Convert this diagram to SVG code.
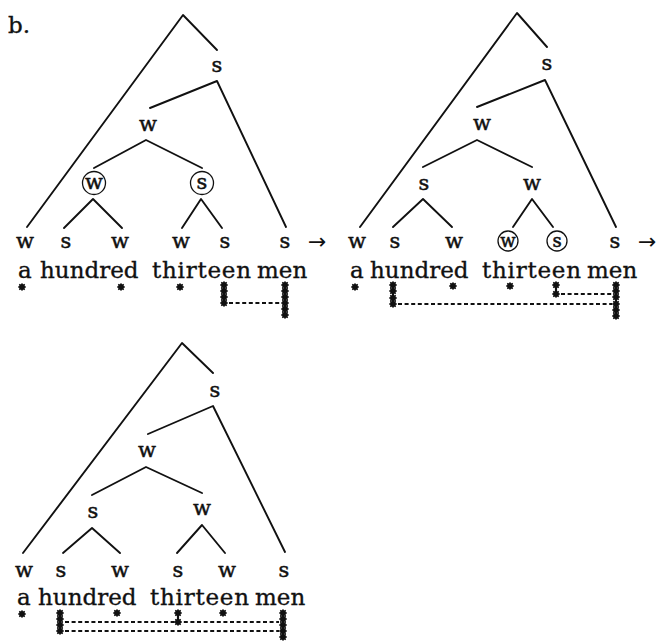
<svg xmlns="http://www.w3.org/2000/svg" xmlns:xlink="http://www.w3.org/1999/xlink" width="660" height="643" viewBox="0 0 660 643">
<style>
.edge{fill:none;stroke:#111;stroke-width:1.9;stroke-linecap:round;stroke-linejoin:round}
.lab{font-family:"DejaVu Serif","Liberation Serif",serif;font-size:21px;fill:#111;stroke:#111;stroke-width:0.5;text-anchor:middle}
.word{font-family:"DejaVu Serif","Liberation Serif",serif;font-size:23px;fill:#111;stroke:#111;stroke-width:0.35}
.ring{fill:none;stroke:#111;stroke-width:1.3}
.dash{fill:none;stroke:#111;stroke-width:1.8;stroke-dasharray:4 2.6}
.col{fill:none;stroke:#111;stroke-width:2.2}
.arrow{font-family:"DejaVu Sans","Liberation Sans",sans-serif;font-size:22px;fill:#111}
</style>
<defs>
<g id="dot">
<circle r="2.9" fill="#111"/>
<path d="M-3.8,0H3.8M0,-3.8V3.8M-2.7,-2.7L2.7,2.7M-2.7,2.7L2.7,-2.7" stroke="#111" stroke-width="1.3"/>
</g>
</defs>
<rect width="660" height="643" fill="#fff"/>
<text x="8" y="33" class="word">b.</text>

<g id="connectors">
<path class="edge" d="M27,227 L183,15 L217,50"/>
<path class="edge" d="M150,108 L217,81 L286,227"/>
<path class="edge" d="M94,168 L146,140 L202,168"/>
<path class="edge" d="M64,228 L93,199 L122,228"/>
<path class="edge" d="M182,228 L201,199 L222,228"/>
<path class="edge" d="M360,227 L517,13 L547,47"/>
<path class="edge" d="M477,107 L545,80 L616,227"/>
<path class="edge" d="M423,167 L477,140 L532,167"/>
<path class="edge" d="M393,227 L423,199 L452,227"/>
<path class="edge" d="M513,227 L532,199 L553,227"/>
<path class="edge" d="M23,553 L182,343 L213,373"/>
<path class="edge" d="M148,434 L213,406 L285,552"/>
<path class="edge" d="M92,495 L146,467 L202,493"/>
<path class="edge" d="M63,553 L92,528 L120,553"/>
<path class="edge" d="M177,553 L202,525 L225,553"/>
</g>

<g id="tree1">
<text class="lab" x="217" y="72">s</text>
<text class="lab" x="148" y="131">w</text>
<g id="t1-ringw"><circle class="ring" cx="94" cy="183" r="11.5"/><text class="lab" x="94" y="189">w</text></g>
<g id="t1-rings"><circle class="ring" cx="202" cy="183" r="11.5"/><text class="lab" x="202" y="189">s</text></g>
<text class="lab" x="25" y="248">w</text>
<text class="lab" x="66" y="248">s</text>
<text class="lab" x="120" y="248">w</text>
<text class="lab" x="181" y="248">w</text>
<text class="lab" x="225" y="248">s</text>
<text class="lab" x="285" y="248">s</text>
<text class="arrow" x="308" y="249">→</text>
<text class="word" x="18" y="278">a</text>
<text class="word" x="40" y="278">hundred</text>
<text class="word" x="152" y="278" textLength="99">thirteen</text>
<text class="word" x="257" y="278">men</text>
<g id="t1-grid">
<path class="dash" d="M229,303 H280"/>
<path class="col" d="M224,285 V303 M285,285 V315"/>
<use xlink:href="#dot" x="22" y="287"/>
<use xlink:href="#dot" x="121" y="287"/>
<use xlink:href="#dot" x="180" y="287"/>
<use xlink:href="#dot" x="224" y="285"/><use xlink:href="#dot" x="224" y="291"/><use xlink:href="#dot" x="224" y="297"/><use xlink:href="#dot" x="224" y="303"/>
<use xlink:href="#dot" x="285" y="285"/><use xlink:href="#dot" x="285" y="291"/><use xlink:href="#dot" x="285" y="297"/><use xlink:href="#dot" x="285" y="303"/><use xlink:href="#dot" x="285" y="309"/><use xlink:href="#dot" x="285" y="315"/>
</g>
</g>

<g id="tree2">
<text class="lab" x="547" y="70">s</text>
<text class="lab" x="482" y="130">w</text>
<text class="lab" x="424" y="190">s</text>
<text class="lab" x="532" y="190">w</text>
<text class="lab" x="357" y="248">w</text>
<text class="lab" x="395" y="248">s</text>
<text class="lab" x="454" y="248">w</text>
<g id="t2-ringw"><circle class="ring" cx="508" cy="241" r="10"/><text class="lab" x="508" y="247" style="font-size:18px">w</text></g>
<g id="t2-rings"><circle class="ring" cx="557" cy="241" r="10"/><text class="lab" x="557" y="247" style="font-size:18px">s</text></g>
<text class="lab" x="615" y="248">s</text>
<text class="arrow" x="638" y="249">→</text>
<text class="word" x="350" y="278">a</text>
<text class="word" x="370" y="278">hundred</text>
<text class="word" x="482" y="278" textLength="99">thirteen</text>
<text class="word" x="587" y="278">men</text>
<g id="t2-grid">
<path class="dash" d="M561,294 H612"/>
<path class="dash" d="M398,304 H612"/>
<path class="col" d="M393,285 V304 M556,285 V294 M616,285 V316"/>
<use xlink:href="#dot" x="355" y="287"/>
<use xlink:href="#dot" x="393" y="285"/><use xlink:href="#dot" x="393" y="291"/><use xlink:href="#dot" x="393" y="298"/><use xlink:href="#dot" x="393" y="304"/>
<use xlink:href="#dot" x="453" y="286"/>
<use xlink:href="#dot" x="510" y="286"/>
<use xlink:href="#dot" x="556" y="285"/><use xlink:href="#dot" x="556" y="294"/>
<use xlink:href="#dot" x="616" y="285"/><use xlink:href="#dot" x="616" y="291"/><use xlink:href="#dot" x="616" y="297"/><use xlink:href="#dot" x="616" y="304"/><use xlink:href="#dot" x="616" y="310"/><use xlink:href="#dot" x="616" y="316"/>
</g>
</g>

<g id="tree3">
<text class="lab" x="215" y="397">s</text>
<text class="lab" x="147" y="457">w</text>
<text class="lab" x="93" y="518">s</text>
<text class="lab" x="202" y="515">w</text>
<text class="lab" x="24" y="577">w</text>
<text class="lab" x="61" y="577">s</text>
<text class="lab" x="120" y="577">w</text>
<text class="lab" x="178" y="577">s</text>
<text class="lab" x="227" y="577">w</text>
<text class="lab" x="284" y="577">s</text>
<text class="word" x="17" y="605">a</text>
<text class="word" x="38" y="605">hundred</text>
<text class="word" x="150" y="605" textLength="99">thirteen</text>
<text class="word" x="255" y="605">men</text>
<g id="t3-grid">
<path class="dash" d="M65,622 H279"/>
<path class="dash" d="M65,631 H279"/>
<path class="col" d="M60,613 V631 M178,613 V622 M283,613 V639"/>
<use xlink:href="#dot" x="22" y="614"/>
<use xlink:href="#dot" x="60" y="613"/><use xlink:href="#dot" x="60" y="619"/><use xlink:href="#dot" x="60" y="625"/><use xlink:href="#dot" x="60" y="631"/>
<use xlink:href="#dot" x="117" y="613"/>
<use xlink:href="#dot" x="178" y="613"/><use xlink:href="#dot" x="178" y="622"/>
<use xlink:href="#dot" x="223" y="613"/>
<use xlink:href="#dot" x="283" y="613"/><use xlink:href="#dot" x="283" y="619"/><use xlink:href="#dot" x="283" y="625"/><use xlink:href="#dot" x="283" y="631"/><use xlink:href="#dot" x="283" y="637"/>
</g>
</g>
</svg>
